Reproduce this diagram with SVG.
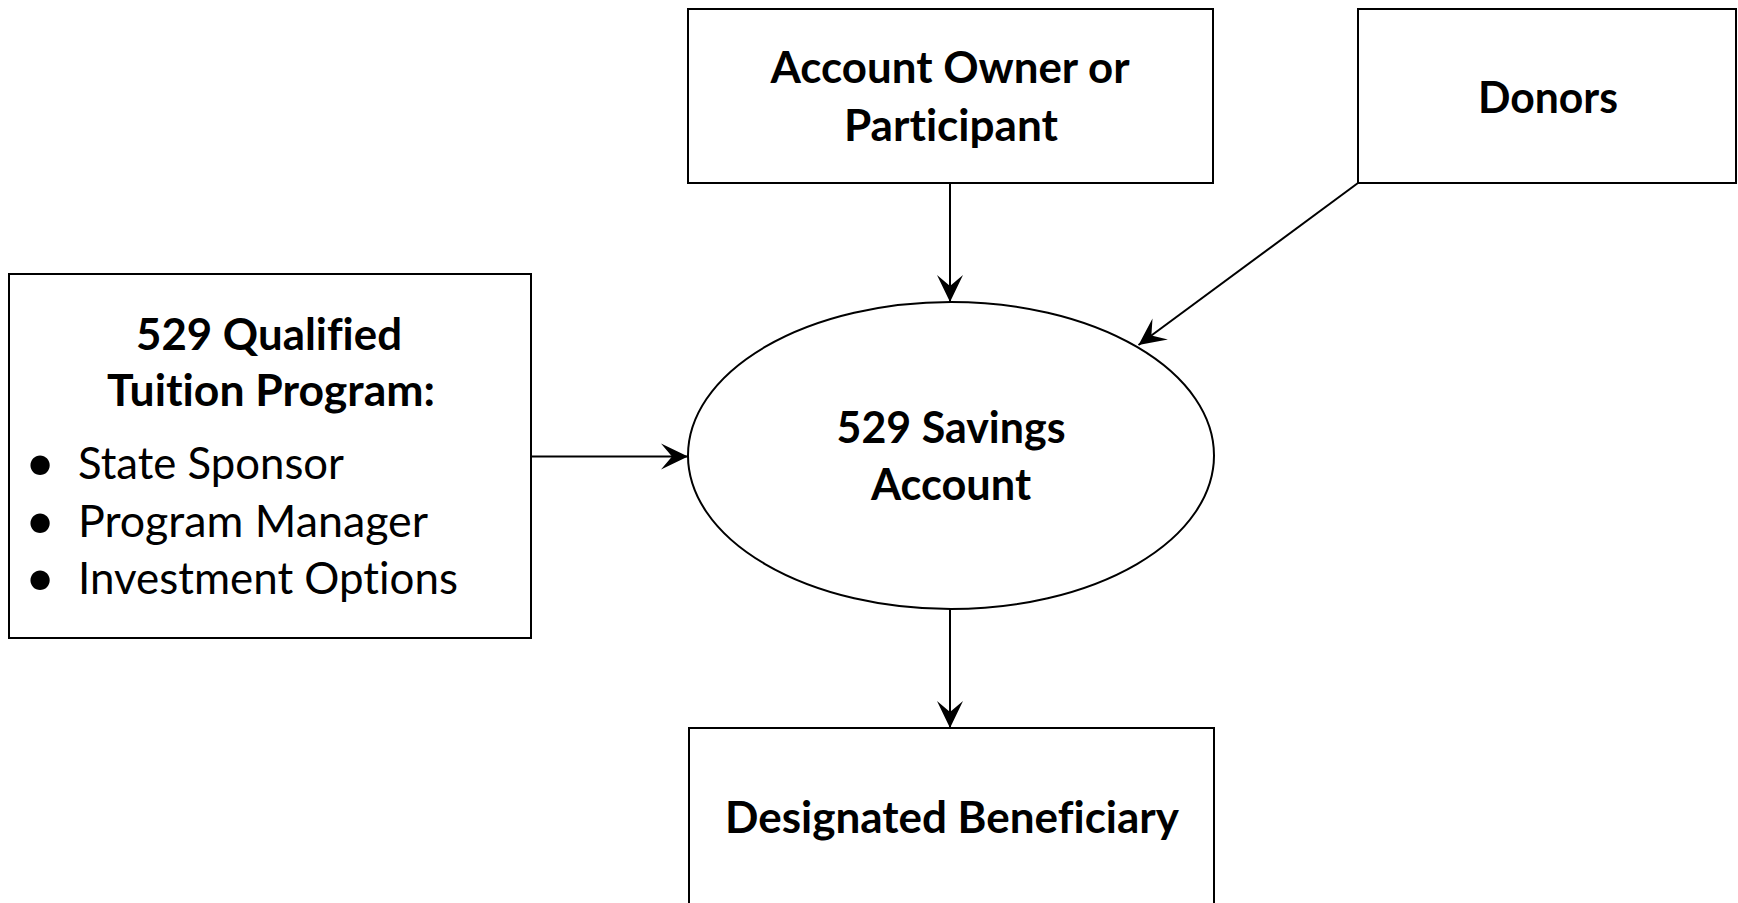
<svg xmlns="http://www.w3.org/2000/svg" width="1738" height="903" viewBox="0 0 1738 903">
  <style>
    .box { fill: #ffffff; stroke: #000000; stroke-width: 2; }
    .t { font-family: Lato, "Open Sans", "Liberation Sans", sans-serif; font-size: 44px; fill: #000000; font-variant-ligatures: none; font-feature-settings: "liga" 0; }
    .b { font-weight: bold; text-anchor: middle; }
    .r { font-weight: normal; }
    .dot { font-size: 52px; text-anchor: middle; }
    .edge { fill: none; stroke: #000000; stroke-width: 2; marker-end: url(#arrow); }
  </style>
  <defs>
    <marker id="arrow" markerUnits="userSpaceOnUse" markerWidth="30" markerHeight="30" viewBox="-28 -14 30 28" refX="0" refY="0" orient="auto">
      <path d="M0,0 L-27,-13 L-16,0 L-27,13 Z" fill="#000000"/>
    </marker>
  </defs>
  <rect width="1738" height="903" fill="#ffffff"/>

  <g id="owner">
    <rect class="box" x="688" y="9" width="525" height="174"/>
    <text class="t b" x="950" y="83" textLength="359" lengthAdjust="spacingAndGlyphs">Account Owner or</text>
    <text class="t b" x="951" y="141" textLength="214" lengthAdjust="spacingAndGlyphs">Participant</text>
  </g>

  <g id="donors">
    <rect class="box" x="1358" y="9" width="378" height="174"/>
    <text class="t b" x="1548" y="113" textLength="140" lengthAdjust="spacingAndGlyphs">Donors</text>
  </g>

  <g id="program">
    <rect class="box" x="9" y="274" width="522" height="364"/>
    <text class="t b" x="269" y="350" textLength="266" lengthAdjust="spacingAndGlyphs">529 Qualified</text>
    <text class="t b" x="271" y="406" textLength="328" lengthAdjust="spacingAndGlyphs">Tuition Program:</text>
    <text class="t r dot" x="40" y="481">•</text>
    <text class="t r" x="78" y="479" textLength="266" lengthAdjust="spacingAndGlyphs">State Sponsor</text>
    <text class="t r dot" x="40" y="539">•</text>
    <text class="t r" x="78" y="537" textLength="350" lengthAdjust="spacingAndGlyphs">Program Manager</text>
    <text class="t r dot" x="40" y="596">•</text>
    <text class="t r" x="78" y="594" textLength="380" lengthAdjust="spacingAndGlyphs">Investment Options</text>
  </g>

  <g id="account">
    <ellipse class="box" cx="951" cy="455.5" rx="263" ry="153.5"/>
    <text class="t b" x="951" y="443" textLength="229" lengthAdjust="spacingAndGlyphs">529 Savings</text>
    <text class="t b" x="951" y="500" textLength="160" lengthAdjust="spacingAndGlyphs">Account</text>
  </g>

  <g id="beneficiary">
    <rect class="box" x="689" y="728" width="525" height="200"/>
    <text class="t b" x="952" y="833" textLength="454" lengthAdjust="spacingAndGlyphs">Designated Beneficiary</text>
  </g>

  <g id="connectors">
    <path class="edge" d="M950,183 L950,302"/>
    <path class="edge" d="M1358,183 L1138.5,345"/>
    <path class="edge" d="M531,456.5 L688,456.5"/>
    <path class="edge" d="M950,609 L950,728"/>
  </g>
</svg>
